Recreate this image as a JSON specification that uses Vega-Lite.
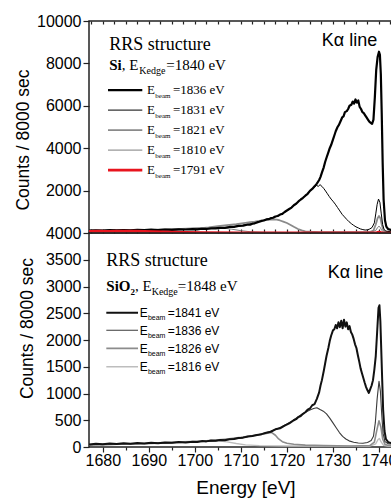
{
"$schema": "https://vega.github.io/schema/vega-lite/v6.json",
"background": "white",
"padding": {"left": 13, "top": 12, "right": 0, "bottom": 0},
"spacing": 0,
"bounds": "flush",
"config": {
  "view": {"stroke": "#222", "strokeWidth": 1.5},
  "axis": {"labelFont": "Liberation Sans", "titleFont": "Liberation Sans", "labelColor": "#000", "titleColor": "#000", "tickColor": "#222", "tickWidth": 1.2, "domain": false, "grid": false, "titleFontWeight": "normal", "labelFontSize": 16}
},
"datasets": {
  "headers": [
    {"panel": "Si", "heading": "RRS structure", "material": "Si", "materialSub": "", "edge": "=1840 eV", "line": "Kα line"},
    {"panel": "SiO2", "heading": "RRS structure", "material": "SiO", "materialSub": "2", "edge": "=1848 eV", "line": "Kα line"}
  ],
  "legend": [
    {"panel": "Si", "series": "Si 1836", "label": "=1836 eV", "ly": 6542},
    {"panel": "Si", "series": "Si 1831", "label": "=1831 eV", "ly": 5599},
    {"panel": "Si", "series": "Si 1821", "label": "=1821 eV", "ly": 4656},
    {"panel": "Si", "series": "Si 1810", "label": "=1810 eV", "ly": 3712},
    {"panel": "Si", "series": "Si 1791", "label": "=1791 eV", "ly": 2769},
    {"panel": "SiO2", "series": "SiO2 1841", "label": "=1841 eV", "ly": 2430},
    {"panel": "SiO2", "series": "SiO2 1836", "label": "=1836 eV", "ly": 2101},
    {"panel": "SiO2", "series": "SiO2 1826", "label": "=1826 eV", "ly": 1764},
    {"panel": "SiO2", "series": "SiO2 1816", "label": "=1816 eV", "ly": 1421}
  ],
  "spectra": [
{"panel":"Si","series":"Si 1810","E":1677,"counts":95},{"panel":"Si","series":"Si 1810","E":1680,"counts":105},{"panel":"Si","series":"Si 1810","E":1683,"counts":115},{"panel":"Si","series":"Si 1810","E":1686,"counts":130},{"panel":"Si","series":"Si 1810","E":1689,"counts":150},{"panel":"Si","series":"Si 1810","E":1692,"counts":170},{"panel":"Si","series":"Si 1810","E":1695,"counts":195},{"panel":"Si","series":"Si 1810","E":1698,"counts":220},{"panel":"Si","series":"Si 1810","E":1700,"counts":240},{"panel":"Si","series":"Si 1810","E":1702,"counts":255},{"panel":"Si","series":"Si 1810","E":1704,"counts":260},{"panel":"Si","series":"Si 1810","E":1706,"counts":240},{"panel":"Si","series":"Si 1810","E":1708,"counts":180},{"panel":"Si","series":"Si 1810","E":1710,"counts":110},{"panel":"Si","series":"Si 1810","E":1712,"counts":60},{"panel":"Si","series":"Si 1810","E":1715,"counts":35},{"panel":"Si","series":"Si 1810","E":1720,"counts":25},{"panel":"Si","series":"Si 1810","E":1730,"counts":20},{"panel":"Si","series":"Si 1810","E":1738,"counts":25},{"panel":"Si","series":"Si 1810","E":1739.3,"counts":120},{"panel":"Si","series":"Si 1810","E":1739.7,"counts":260},{"panel":"Si","series":"Si 1810","E":1740,"counts":320},{"panel":"Si","series":"Si 1810","E":1740.3,"counts":260},{"panel":"Si","series":"Si 1810","E":1740.6,"counts":120},{"panel":"Si","series":"Si 1810","E":1741,"counts":40},{"panel":"Si","series":"Si 1810","E":1742,"counts":20},{"panel":"Si","series":"Si 1810","E":1745,"counts":15},
{"panel":"Si","series":"Si 1821","E":1677,"counts":115},{"panel":"Si","series":"Si 1821","E":1679,"counts":120},{"panel":"Si","series":"Si 1821","E":1681,"counts":125},{"panel":"Si","series":"Si 1821","E":1683,"counts":130},{"panel":"Si","series":"Si 1821","E":1685,"counts":135},{"panel":"Si","series":"Si 1821","E":1687,"counts":140},{"panel":"Si","series":"Si 1821","E":1689,"counts":145},{"panel":"Si","series":"Si 1821","E":1691,"counts":150},{"panel":"Si","series":"Si 1821","E":1693,"counts":160},{"panel":"Si","series":"Si 1821","E":1695,"counts":165},{"panel":"Si","series":"Si 1821","E":1697,"counts":175},{"panel":"Si","series":"Si 1821","E":1699,"counts":190},{"panel":"Si","series":"Si 1821","E":1701,"counts":215},{"panel":"Si","series":"Si 1821","E":1703,"counts":260},{"panel":"Si","series":"Si 1821","E":1705,"counts":320},{"panel":"Si","series":"Si 1821","E":1707,"counts":370},{"panel":"Si","series":"Si 1821","E":1709,"counts":420},{"panel":"Si","series":"Si 1821","E":1711,"counts":480},{"panel":"Si","series":"Si 1821","E":1712,"counts":510},{"panel":"Si","series":"Si 1821","E":1713,"counts":540},{"panel":"Si","series":"Si 1821","E":1714,"counts":575},{"panel":"Si","series":"Si 1821","E":1715,"counts":610},{"panel":"Si","series":"Si 1821","E":1716,"counts":635},{"panel":"Si","series":"Si 1821","E":1717,"counts":645},{"panel":"Si","series":"Si 1821","E":1717.8,"counts":630},{"panel":"Si","series":"Si 1821","E":1718.5,"counts":590},{"panel":"Si","series":"Si 1821","E":1719.2,"counts":540},{"panel":"Si","series":"Si 1821","E":1720,"counts":470},{"panel":"Si","series":"Si 1821","E":1720.8,"counts":380},{"panel":"Si","series":"Si 1821","E":1721.6,"counts":280},{"panel":"Si","series":"Si 1821","E":1722.4,"counts":190},{"panel":"Si","series":"Si 1821","E":1723.2,"counts":120},{"panel":"Si","series":"Si 1821","E":1724,"counts":80},{"panel":"Si","series":"Si 1821","E":1725,"counts":60},{"panel":"Si","series":"Si 1821","E":1727,"counts":45},{"panel":"Si","series":"Si 1821","E":1730,"counts":40},{"panel":"Si","series":"Si 1821","E":1733,"counts":35},{"panel":"Si","series":"Si 1821","E":1736,"counts":35},{"panel":"Si","series":"Si 1821","E":1738,"counts":45},{"panel":"Si","series":"Si 1821","E":1738.8,"counts":120},{"panel":"Si","series":"Si 1821","E":1739.3,"counts":400},{"panel":"Si","series":"Si 1821","E":1739.7,"counts":700},{"panel":"Si","series":"Si 1821","E":1740,"counts":800},{"panel":"Si","series":"Si 1821","E":1740.3,"counts":700},{"panel":"Si","series":"Si 1821","E":1740.6,"counts":400},{"panel":"Si","series":"Si 1821","E":1740.9,"counts":160},{"panel":"Si","series":"Si 1821","E":1741.3,"counts":60},{"panel":"Si","series":"Si 1821","E":1742,"counts":40},{"panel":"Si","series":"Si 1821","E":1745,"counts":30},
{"panel":"Si","series":"Si 1831","E":1677,"counts":100},{"panel":"Si","series":"Si 1831","E":1680,"counts":110},{"panel":"Si","series":"Si 1831","E":1683,"counts":115},{"panel":"Si","series":"Si 1831","E":1686,"counts":120},{"panel":"Si","series":"Si 1831","E":1689,"counts":130},{"panel":"Si","series":"Si 1831","E":1692,"counts":140},{"panel":"Si","series":"Si 1831","E":1695,"counts":150},{"panel":"Si","series":"Si 1831","E":1698,"counts":165},{"panel":"Si","series":"Si 1831","E":1700,"counts":175},{"panel":"Si","series":"Si 1831","E":1702,"counts":195},{"panel":"Si","series":"Si 1831","E":1704,"counts":215},{"panel":"Si","series":"Si 1831","E":1706,"counts":245},{"panel":"Si","series":"Si 1831","E":1708,"counts":290},{"panel":"Si","series":"Si 1831","E":1710,"counts":345},{"panel":"Si","series":"Si 1831","E":1711,"counts":390},{"panel":"Si","series":"Si 1831","E":1712,"counts":420},{"panel":"Si","series":"Si 1831","E":1713,"counts":470},{"panel":"Si","series":"Si 1831","E":1714,"counts":540},{"panel":"Si","series":"Si 1831","E":1715,"counts":600},{"panel":"Si","series":"Si 1831","E":1716,"counts":660},{"panel":"Si","series":"Si 1831","E":1717,"counts":730},{"panel":"Si","series":"Si 1831","E":1718,"counts":810},{"panel":"Si","series":"Si 1831","E":1719,"counts":900},{"panel":"Si","series":"Si 1831","E":1720,"counts":1050},{"panel":"Si","series":"Si 1831","E":1721,"counts":1200},{"panel":"Si","series":"Si 1831","E":1722,"counts":1380},{"panel":"Si","series":"Si 1831","E":1723,"counts":1580},{"panel":"Si","series":"Si 1831","E":1724,"counts":1760},{"panel":"Si","series":"Si 1831","E":1724.5,"counts":1850},{"panel":"Si","series":"Si 1831","E":1725,"counts":1980},{"panel":"Si","series":"Si 1831","E":1725.5,"counts":2080},{"panel":"Si","series":"Si 1831","E":1726,"counts":2150},{"panel":"Si","series":"Si 1831","E":1726.4,"counts":2250},{"panel":"Si","series":"Si 1831","E":1726.8,"counts":2200},{"panel":"Si","series":"Si 1831","E":1727.2,"counts":2280},{"panel":"Si","series":"Si 1831","E":1727.6,"counts":2200},{"panel":"Si","series":"Si 1831","E":1728,"counts":2100},{"panel":"Si","series":"Si 1831","E":1728.4,"counts":1980},{"panel":"Si","series":"Si 1831","E":1728.8,"counts":1850},{"panel":"Si","series":"Si 1831","E":1729.2,"counts":1720},{"panel":"Si","series":"Si 1831","E":1729.6,"counts":1600},{"panel":"Si","series":"Si 1831","E":1730,"counts":1500},{"panel":"Si","series":"Si 1831","E":1730.5,"counts":1360},{"panel":"Si","series":"Si 1831","E":1731,"counts":1200},{"panel":"Si","series":"Si 1831","E":1731.5,"counts":1040},{"panel":"Si","series":"Si 1831","E":1732,"counts":880},{"panel":"Si","series":"Si 1831","E":1732.5,"counts":760},{"panel":"Si","series":"Si 1831","E":1733,"counts":640},{"panel":"Si","series":"Si 1831","E":1733.5,"counts":530},{"panel":"Si","series":"Si 1831","E":1734,"counts":440},{"panel":"Si","series":"Si 1831","E":1734.5,"counts":360},{"panel":"Si","series":"Si 1831","E":1735,"counts":290},{"panel":"Si","series":"Si 1831","E":1735.5,"counts":240},{"panel":"Si","series":"Si 1831","E":1736,"counts":190},{"panel":"Si","series":"Si 1831","E":1736.5,"counts":160},{"panel":"Si","series":"Si 1831","E":1737,"counts":140},{"panel":"Si","series":"Si 1831","E":1737.5,"counts":150},{"panel":"Si","series":"Si 1831","E":1738,"counts":190},{"panel":"Si","series":"Si 1831","E":1738.5,"counts":260},{"panel":"Si","series":"Si 1831","E":1739,"counts":480},{"panel":"Si","series":"Si 1831","E":1739.3,"counts":900},{"panel":"Si","series":"Si 1831","E":1739.6,"counts":1350},{"panel":"Si","series":"Si 1831","E":1739.9,"counts":1600},{"panel":"Si","series":"Si 1831","E":1740.2,"counts":1450},{"panel":"Si","series":"Si 1831","E":1740.5,"counts":900},{"panel":"Si","series":"Si 1831","E":1740.8,"counts":400},{"panel":"Si","series":"Si 1831","E":1741.1,"counts":170},{"panel":"Si","series":"Si 1831","E":1741.5,"counts":90},{"panel":"Si","series":"Si 1831","E":1742.5,"counts":60},{"panel":"Si","series":"Si 1831","E":1744,"counts":50},{"panel":"Si","series":"Si 1831","E":1745,"counts":50},
{"panel":"Si","series":"Si 1836","E":1677,"counts":110},{"panel":"Si","series":"Si 1836","E":1678.5,"counts":130},{"panel":"Si","series":"Si 1836","E":1680,"counts":115},{"panel":"Si","series":"Si 1836","E":1681.5,"counts":135},{"panel":"Si","series":"Si 1836","E":1683,"counts":120},{"panel":"Si","series":"Si 1836","E":1684.5,"counts":140},{"panel":"Si","series":"Si 1836","E":1686,"counts":125},{"panel":"Si","series":"Si 1836","E":1687.5,"counts":150},{"panel":"Si","series":"Si 1836","E":1689,"counts":135},{"panel":"Si","series":"Si 1836","E":1690.5,"counts":155},{"panel":"Si","series":"Si 1836","E":1692,"counts":140},{"panel":"Si","series":"Si 1836","E":1693.5,"counts":165},{"panel":"Si","series":"Si 1836","E":1695,"counts":150},{"panel":"Si","series":"Si 1836","E":1696.5,"counts":175},{"panel":"Si","series":"Si 1836","E":1698,"counts":165},{"panel":"Si","series":"Si 1836","E":1699.5,"counts":180},{"panel":"Si","series":"Si 1836","E":1700.5,"counts":175},{"panel":"Si","series":"Si 1836","E":1701.5,"counts":200},{"panel":"Si","series":"Si 1836","E":1702.5,"counts":190},{"panel":"Si","series":"Si 1836","E":1703.5,"counts":220},{"panel":"Si","series":"Si 1836","E":1704.5,"counts":215},{"panel":"Si","series":"Si 1836","E":1705.5,"counts":245},{"panel":"Si","series":"Si 1836","E":1706.5,"counts":240},{"panel":"Si","series":"Si 1836","E":1707.5,"counts":285},{"panel":"Si","series":"Si 1836","E":1708.5,"counts":290},{"panel":"Si","series":"Si 1836","E":1709.5,"counts":335},{"panel":"Si","series":"Si 1836","E":1710.5,"counts":345},{"panel":"Si","series":"Si 1836","E":1711.5,"counts":400},{"panel":"Si","series":"Si 1836","E":1712,"counts":395},{"panel":"Si","series":"Si 1836","E":1712.5,"counts":440},{"panel":"Si","series":"Si 1836","E":1713,"counts":455},{"panel":"Si","series":"Si 1836","E":1713.5,"counts":500},{"panel":"Si","series":"Si 1836","E":1714,"counts":530},{"panel":"Si","series":"Si 1836","E":1714.5,"counts":570},{"panel":"Si","series":"Si 1836","E":1715,"counts":590},{"panel":"Si","series":"Si 1836","E":1715.5,"counts":640},{"panel":"Si","series":"Si 1836","E":1716,"counts":650},{"panel":"Si","series":"Si 1836","E":1716.5,"counts":700},{"panel":"Si","series":"Si 1836","E":1717,"counts":720},{"panel":"Si","series":"Si 1836","E":1717.5,"counts":780},{"panel":"Si","series":"Si 1836","E":1718,"counts":800},{"panel":"Si","series":"Si 1836","E":1718.5,"counts":870},{"panel":"Si","series":"Si 1836","E":1719,"counts":900},{"panel":"Si","series":"Si 1836","E":1719.5,"counts":990},{"panel":"Si","series":"Si 1836","E":1720,"counts":1060},{"panel":"Si","series":"Si 1836","E":1720.5,"counts":1130},{"panel":"Si","series":"Si 1836","E":1721,"counts":1200},{"panel":"Si","series":"Si 1836","E":1721.5,"counts":1310},{"panel":"Si","series":"Si 1836","E":1722,"counts":1380},{"panel":"Si","series":"Si 1836","E":1722.5,"counts":1490},{"panel":"Si","series":"Si 1836","E":1723,"counts":1580},{"panel":"Si","series":"Si 1836","E":1723.5,"counts":1660},{"panel":"Si","series":"Si 1836","E":1724,"counts":1760},{"panel":"Si","series":"Si 1836","E":1724.5,"counts":1850},{"panel":"Si","series":"Si 1836","E":1725,"counts":1990},{"panel":"Si","series":"Si 1836","E":1725.5,"counts":2080},{"panel":"Si","series":"Si 1836","E":1726,"counts":2200},{"panel":"Si","series":"Si 1836","E":1726.5,"counts":2330},{"panel":"Si","series":"Si 1836","E":1727,"counts":2500},{"panel":"Si","series":"Si 1836","E":1727.3,"counts":2650},{"panel":"Si","series":"Si 1836","E":1727.6,"counts":2850},{"panel":"Si","series":"Si 1836","E":1728,"counts":3100},{"panel":"Si","series":"Si 1836","E":1728.3,"counts":3350},{"panel":"Si","series":"Si 1836","E":1728.6,"counts":3550},{"panel":"Si","series":"Si 1836","E":1729,"counts":3800},{"panel":"Si","series":"Si 1836","E":1729.3,"counts":4000},{"panel":"Si","series":"Si 1836","E":1729.6,"counts":4150},{"panel":"Si","series":"Si 1836","E":1730,"counts":4400},{"panel":"Si","series":"Si 1836","E":1730.3,"counts":4600},{"panel":"Si","series":"Si 1836","E":1730.6,"counts":4800},{"panel":"Si","series":"Si 1836","E":1731,"counts":5000},{"panel":"Si","series":"Si 1836","E":1731.3,"counts":5100},{"panel":"Si","series":"Si 1836","E":1731.6,"counts":5250},{"panel":"Si","series":"Si 1836","E":1732,"counts":5450},{"panel":"Si","series":"Si 1836","E":1732.3,"counts":5500},{"panel":"Si","series":"Si 1836","E":1732.6,"counts":5700},{"panel":"Si","series":"Si 1836","E":1733,"counts":5750},{"panel":"Si","series":"Si 1836","E":1733.3,"counts":5850},{"panel":"Si","series":"Si 1836","E":1733.6,"counts":6000},{"panel":"Si","series":"Si 1836","E":1734,"counts":6050},{"panel":"Si","series":"Si 1836","E":1734.3,"counts":6200},{"panel":"Si","series":"Si 1836","E":1734.6,"counts":6100},{"panel":"Si","series":"Si 1836","E":1734.9,"counts":6300},{"panel":"Si","series":"Si 1836","E":1735.2,"counts":6150},{"panel":"Si","series":"Si 1836","E":1735.5,"counts":6250},{"panel":"Si","series":"Si 1836","E":1735.8,"counts":5950},{"panel":"Si","series":"Si 1836","E":1736.1,"counts":5850},{"panel":"Si","series":"Si 1836","E":1736.4,"counts":5700},{"panel":"Si","series":"Si 1836","E":1736.7,"counts":5650},{"panel":"Si","series":"Si 1836","E":1737,"counts":5550},{"panel":"Si","series":"Si 1836","E":1737.3,"counts":5450},{"panel":"Si","series":"Si 1836","E":1737.6,"counts":5350},{"panel":"Si","series":"Si 1836","E":1737.9,"counts":5250},{"panel":"Si","series":"Si 1836","E":1738.2,"counts":5200},{"panel":"Si","series":"Si 1836","E":1738.5,"counts":5150},{"panel":"Si","series":"Si 1836","E":1738.8,"counts":5350},{"panel":"Si","series":"Si 1836","E":1739.1,"counts":6400},{"panel":"Si","series":"Si 1836","E":1739.4,"counts":7700},{"panel":"Si","series":"Si 1836","E":1739.7,"counts":8300},{"panel":"Si","series":"Si 1836","E":1740,"counts":8550},{"panel":"Si","series":"Si 1836","E":1740.2,"counts":8400},{"panel":"Si","series":"Si 1836","E":1740.4,"counts":7500},{"panel":"Si","series":"Si 1836","E":1740.6,"counts":5600},{"panel":"Si","series":"Si 1836","E":1740.8,"counts":3300},{"panel":"Si","series":"Si 1836","E":1741,"counts":1600},{"panel":"Si","series":"Si 1836","E":1741.3,"counts":600},{"panel":"Si","series":"Si 1836","E":1741.6,"counts":300},{"panel":"Si","series":"Si 1836","E":1742,"counts":180},{"panel":"Si","series":"Si 1836","E":1743,"counts":130},{"panel":"Si","series":"Si 1836","E":1744,"counts":110},{"panel":"Si","series":"Si 1836","E":1745,"counts":100},
{"panel":"Si","series":"Si 1791","E":1677,"counts":80},{"panel":"Si","series":"Si 1791","E":1679,"counts":90},{"panel":"Si","series":"Si 1791","E":1681,"counts":85},{"panel":"Si","series":"Si 1791","E":1683,"counts":95},{"panel":"Si","series":"Si 1791","E":1685,"counts":90},{"panel":"Si","series":"Si 1791","E":1687,"counts":95},{"panel":"Si","series":"Si 1791","E":1689,"counts":80},{"panel":"Si","series":"Si 1791","E":1691,"counts":70},{"panel":"Si","series":"Si 1791","E":1693,"counts":55},{"panel":"Si","series":"Si 1791","E":1695,"counts":45},{"panel":"Si","series":"Si 1791","E":1698,"counts":30},{"panel":"Si","series":"Si 1791","E":1702,"counts":20},{"panel":"Si","series":"Si 1791","E":1710,"counts":12},{"panel":"Si","series":"Si 1791","E":1720,"counts":8},{"panel":"Si","series":"Si 1791","E":1730,"counts":5},{"panel":"Si","series":"Si 1791","E":1738,"counts":5},{"panel":"Si","series":"Si 1791","E":1739.5,"counts":25},{"panel":"Si","series":"Si 1791","E":1740,"counts":50},{"panel":"Si","series":"Si 1791","E":1740.5,"counts":20},{"panel":"Si","series":"Si 1791","E":1741,"counts":5},{"panel":"Si","series":"Si 1791","E":1745,"counts":0},
{"panel":"SiO2","series":"SiO2 1816","E":1677,"counts":35},{"panel":"SiO2","series":"SiO2 1816","E":1680,"counts":40},{"panel":"SiO2","series":"SiO2 1816","E":1684,"counts":50},{"panel":"SiO2","series":"SiO2 1816","E":1688,"counts":65},{"panel":"SiO2","series":"SiO2 1816","E":1692,"counts":80},{"panel":"SiO2","series":"SiO2 1816","E":1696,"counts":95},{"panel":"SiO2","series":"SiO2 1816","E":1700,"counts":110},{"panel":"SiO2","series":"SiO2 1816","E":1703,"counts":120},{"panel":"SiO2","series":"SiO2 1816","E":1705,"counts":115},{"panel":"SiO2","series":"SiO2 1816","E":1707,"counts":95},{"panel":"SiO2","series":"SiO2 1816","E":1709,"counts":65},{"panel":"SiO2","series":"SiO2 1816","E":1711,"counts":40},{"panel":"SiO2","series":"SiO2 1816","E":1714,"counts":25},{"panel":"SiO2","series":"SiO2 1816","E":1720,"counts":18},{"panel":"SiO2","series":"SiO2 1816","E":1730,"counts":15},{"panel":"SiO2","series":"SiO2 1816","E":1738,"counts":15},{"panel":"SiO2","series":"SiO2 1816","E":1739.3,"counts":60},{"panel":"SiO2","series":"SiO2 1816","E":1739.8,"counts":140},{"panel":"SiO2","series":"SiO2 1816","E":1740.1,"counts":160},{"panel":"SiO2","series":"SiO2 1816","E":1740.5,"counts":90},{"panel":"SiO2","series":"SiO2 1816","E":1741,"counts":30},{"panel":"SiO2","series":"SiO2 1816","E":1742,"counts":15},{"panel":"SiO2","series":"SiO2 1816","E":1745,"counts":10},
{"panel":"SiO2","series":"SiO2 1826","E":1677,"counts":40},{"panel":"SiO2","series":"SiO2 1826","E":1680,"counts":45},{"panel":"SiO2","series":"SiO2 1826","E":1683,"counts":50},{"panel":"SiO2","series":"SiO2 1826","E":1686,"counts":55},{"panel":"SiO2","series":"SiO2 1826","E":1689,"counts":60},{"panel":"SiO2","series":"SiO2 1826","E":1692,"counts":70},{"panel":"SiO2","series":"SiO2 1826","E":1695,"counts":80},{"panel":"SiO2","series":"SiO2 1826","E":1698,"counts":90},{"panel":"SiO2","series":"SiO2 1826","E":1701,"counts":105},{"panel":"SiO2","series":"SiO2 1826","E":1704,"counts":125},{"panel":"SiO2","series":"SiO2 1826","E":1707,"counts":150},{"panel":"SiO2","series":"SiO2 1826","E":1710,"counts":180},{"panel":"SiO2","series":"SiO2 1826","E":1712,"counts":205},{"panel":"SiO2","series":"SiO2 1826","E":1714,"counts":230},{"panel":"SiO2","series":"SiO2 1826","E":1715.5,"counts":255},{"panel":"SiO2","series":"SiO2 1826","E":1716.7,"counts":270},{"panel":"SiO2","series":"SiO2 1826","E":1717.5,"counts":220},{"panel":"SiO2","series":"SiO2 1826","E":1718.2,"counts":150},{"panel":"SiO2","series":"SiO2 1826","E":1719,"counts":100},{"panel":"SiO2","series":"SiO2 1826","E":1720,"counts":70},{"panel":"SiO2","series":"SiO2 1826","E":1721.5,"counts":50},{"panel":"SiO2","series":"SiO2 1826","E":1724,"counts":35},{"panel":"SiO2","series":"SiO2 1826","E":1728,"counts":25},{"panel":"SiO2","series":"SiO2 1826","E":1734,"counts":20},{"panel":"SiO2","series":"SiO2 1826","E":1738,"counts":25},{"panel":"SiO2","series":"SiO2 1826","E":1739,"counts":90},{"panel":"SiO2","series":"SiO2 1826","E":1739.5,"counts":300},{"panel":"SiO2","series":"SiO2 1826","E":1740,"counts":490},{"panel":"SiO2","series":"SiO2 1826","E":1740.4,"counts":380},{"panel":"SiO2","series":"SiO2 1826","E":1740.8,"counts":150},{"panel":"SiO2","series":"SiO2 1826","E":1741.3,"counts":50},{"panel":"SiO2","series":"SiO2 1826","E":1742,"counts":30},{"panel":"SiO2","series":"SiO2 1826","E":1745,"counts":20},
{"panel":"SiO2","series":"SiO2 1836","E":1677,"counts":45},{"panel":"SiO2","series":"SiO2 1836","E":1680,"counts":50},{"panel":"SiO2","series":"SiO2 1836","E":1683,"counts":55},{"panel":"SiO2","series":"SiO2 1836","E":1686,"counts":60},{"panel":"SiO2","series":"SiO2 1836","E":1689,"counts":65},{"panel":"SiO2","series":"SiO2 1836","E":1692,"counts":70},{"panel":"SiO2","series":"SiO2 1836","E":1695,"counts":80},{"panel":"SiO2","series":"SiO2 1836","E":1698,"counts":90},{"panel":"SiO2","series":"SiO2 1836","E":1701,"counts":100},{"panel":"SiO2","series":"SiO2 1836","E":1704,"counts":115},{"panel":"SiO2","series":"SiO2 1836","E":1707,"counts":135},{"panel":"SiO2","series":"SiO2 1836","E":1710,"counts":170},{"panel":"SiO2","series":"SiO2 1836","E":1712,"counts":200},{"panel":"SiO2","series":"SiO2 1836","E":1714,"counts":235},{"panel":"SiO2","series":"SiO2 1836","E":1716,"counts":280},{"panel":"SiO2","series":"SiO2 1836","E":1718,"counts":340},{"panel":"SiO2","series":"SiO2 1836","E":1720,"counts":430},{"panel":"SiO2","series":"SiO2 1836","E":1721,"counts":480},{"panel":"SiO2","series":"SiO2 1836","E":1722,"counts":540},{"panel":"SiO2","series":"SiO2 1836","E":1723,"counts":600},{"panel":"SiO2","series":"SiO2 1836","E":1724,"counts":650},{"panel":"SiO2","series":"SiO2 1836","E":1725,"counts":690},{"panel":"SiO2","series":"SiO2 1836","E":1725.8,"counts":720},{"panel":"SiO2","series":"SiO2 1836","E":1726.5,"counts":735},{"panel":"SiO2","series":"SiO2 1836","E":1727.2,"counts":700},{"panel":"SiO2","series":"SiO2 1836","E":1727.9,"counts":670},{"panel":"SiO2","series":"SiO2 1836","E":1728.6,"counts":620},{"panel":"SiO2","series":"SiO2 1836","E":1729.3,"counts":540},{"panel":"SiO2","series":"SiO2 1836","E":1730,"counts":450},{"panel":"SiO2","series":"SiO2 1836","E":1730.7,"counts":360},{"panel":"SiO2","series":"SiO2 1836","E":1731.4,"counts":270},{"panel":"SiO2","series":"SiO2 1836","E":1732.1,"counts":200},{"panel":"SiO2","series":"SiO2 1836","E":1732.8,"counts":150},{"panel":"SiO2","series":"SiO2 1836","E":1733.5,"counts":115},{"panel":"SiO2","series":"SiO2 1836","E":1734.5,"counts":90},{"panel":"SiO2","series":"SiO2 1836","E":1735.5,"counts":75},{"panel":"SiO2","series":"SiO2 1836","E":1736.5,"counts":70},{"panel":"SiO2","series":"SiO2 1836","E":1737.5,"counts":85},{"panel":"SiO2","series":"SiO2 1836","E":1738.3,"counts":120},{"panel":"SiO2","series":"SiO2 1836","E":1738.8,"counts":200},{"panel":"SiO2","series":"SiO2 1836","E":1739.2,"counts":450},{"panel":"SiO2","series":"SiO2 1836","E":1739.6,"counts":900},{"panel":"SiO2","series":"SiO2 1836","E":1740,"counts":1230},{"panel":"SiO2","series":"SiO2 1836","E":1740.3,"counts":1050},{"panel":"SiO2","series":"SiO2 1836","E":1740.6,"counts":600},{"panel":"SiO2","series":"SiO2 1836","E":1740.9,"counts":250},{"panel":"SiO2","series":"SiO2 1836","E":1741.3,"counts":100},{"panel":"SiO2","series":"SiO2 1836","E":1742,"counts":60},{"panel":"SiO2","series":"SiO2 1836","E":1744,"counts":45},{"panel":"SiO2","series":"SiO2 1836","E":1745,"counts":40},
{"panel":"SiO2","series":"SiO2 1841","E":1677,"counts":45},{"panel":"SiO2","series":"SiO2 1841","E":1678.5,"counts":60},{"panel":"SiO2","series":"SiO2 1841","E":1680,"counts":50},{"panel":"SiO2","series":"SiO2 1841","E":1681.5,"counts":65},{"panel":"SiO2","series":"SiO2 1841","E":1683,"counts":55},{"panel":"SiO2","series":"SiO2 1841","E":1684.5,"counts":70},{"panel":"SiO2","series":"SiO2 1841","E":1686,"counts":60},{"panel":"SiO2","series":"SiO2 1841","E":1687.5,"counts":75},{"panel":"SiO2","series":"SiO2 1841","E":1689,"counts":65},{"panel":"SiO2","series":"SiO2 1841","E":1690.5,"counts":80},{"panel":"SiO2","series":"SiO2 1841","E":1692,"counts":70},{"panel":"SiO2","series":"SiO2 1841","E":1693.5,"counts":85},{"panel":"SiO2","series":"SiO2 1841","E":1695,"counts":80},{"panel":"SiO2","series":"SiO2 1841","E":1696.5,"counts":95},{"panel":"SiO2","series":"SiO2 1841","E":1698,"counts":85},{"panel":"SiO2","series":"SiO2 1841","E":1699.5,"counts":100},{"panel":"SiO2","series":"SiO2 1841","E":1700.5,"counts":95},{"panel":"SiO2","series":"SiO2 1841","E":1701.5,"counts":110},{"panel":"SiO2","series":"SiO2 1841","E":1702.5,"counts":105},{"panel":"SiO2","series":"SiO2 1841","E":1703.5,"counts":120},{"panel":"SiO2","series":"SiO2 1841","E":1704.5,"counts":115},{"panel":"SiO2","series":"SiO2 1841","E":1705.5,"counts":130},{"panel":"SiO2","series":"SiO2 1841","E":1706.5,"counts":125},{"panel":"SiO2","series":"SiO2 1841","E":1707.5,"counts":145},{"panel":"SiO2","series":"SiO2 1841","E":1708.5,"counts":150},{"panel":"SiO2","series":"SiO2 1841","E":1709.5,"counts":170},{"panel":"SiO2","series":"SiO2 1841","E":1710.5,"counts":175},{"panel":"SiO2","series":"SiO2 1841","E":1711.5,"counts":195},{"panel":"SiO2","series":"SiO2 1841","E":1712.5,"counts":205},{"panel":"SiO2","series":"SiO2 1841","E":1713.5,"counts":225},{"panel":"SiO2","series":"SiO2 1841","E":1714.5,"counts":240},{"panel":"SiO2","series":"SiO2 1841","E":1715.5,"counts":265},{"panel":"SiO2","series":"SiO2 1841","E":1716.5,"counts":285},{"panel":"SiO2","series":"SiO2 1841","E":1717.5,"counts":330},{"panel":"SiO2","series":"SiO2 1841","E":1718.5,"counts":350},{"panel":"SiO2","series":"SiO2 1841","E":1719.5,"counts":400},{"panel":"SiO2","series":"SiO2 1841","E":1720.5,"counts":440},{"panel":"SiO2","series":"SiO2 1841","E":1721.5,"counts":500},{"panel":"SiO2","series":"SiO2 1841","E":1722,"counts":520},{"panel":"SiO2","series":"SiO2 1841","E":1722.5,"counts":560},{"panel":"SiO2","series":"SiO2 1841","E":1723,"counts":580},{"panel":"SiO2","series":"SiO2 1841","E":1723.5,"counts":620},{"panel":"SiO2","series":"SiO2 1841","E":1724,"counts":650},{"panel":"SiO2","series":"SiO2 1841","E":1724.5,"counts":700},{"panel":"SiO2","series":"SiO2 1841","E":1725,"counts":720},{"panel":"SiO2","series":"SiO2 1841","E":1725.5,"counts":780},{"panel":"SiO2","series":"SiO2 1841","E":1726,"counts":800},{"panel":"SiO2","series":"SiO2 1841","E":1726.5,"counts":900},{"panel":"SiO2","series":"SiO2 1841","E":1727,"counts":1020},{"panel":"SiO2","series":"SiO2 1841","E":1727.3,"counts":1150},{"panel":"SiO2","series":"SiO2 1841","E":1727.6,"counts":1250},{"panel":"SiO2","series":"SiO2 1841","E":1728,"counts":1420},{"panel":"SiO2","series":"SiO2 1841","E":1728.3,"counts":1560},{"panel":"SiO2","series":"SiO2 1841","E":1728.6,"counts":1700},{"panel":"SiO2","series":"SiO2 1841","E":1729,"counts":1850},{"panel":"SiO2","series":"SiO2 1841","E":1729.3,"counts":1980},{"panel":"SiO2","series":"SiO2 1841","E":1729.6,"counts":2080},{"panel":"SiO2","series":"SiO2 1841","E":1730,"counts":2180},{"panel":"SiO2","series":"SiO2 1841","E":1730.3,"counts":2200},{"panel":"SiO2","series":"SiO2 1841","E":1730.6,"counts":2280},{"panel":"SiO2","series":"SiO2 1841","E":1730.9,"counts":2220},{"panel":"SiO2","series":"SiO2 1841","E":1731.2,"counts":2330},{"panel":"SiO2","series":"SiO2 1841","E":1731.5,"counts":2240},{"panel":"SiO2","series":"SiO2 1841","E":1731.8,"counts":2360},{"panel":"SiO2","series":"SiO2 1841","E":1732.1,"counts":2220},{"panel":"SiO2","series":"SiO2 1841","E":1732.4,"counts":2380},{"panel":"SiO2","series":"SiO2 1841","E":1732.7,"counts":2250},{"panel":"SiO2","series":"SiO2 1841","E":1733,"counts":2330},{"panel":"SiO2","series":"SiO2 1841","E":1733.3,"counts":2200},{"panel":"SiO2","series":"SiO2 1841","E":1733.6,"counts":2260},{"panel":"SiO2","series":"SiO2 1841","E":1733.9,"counts":2150},{"panel":"SiO2","series":"SiO2 1841","E":1734.2,"counts":2100},{"panel":"SiO2","series":"SiO2 1841","E":1734.5,"counts":2020},{"panel":"SiO2","series":"SiO2 1841","E":1734.8,"counts":1920},{"panel":"SiO2","series":"SiO2 1841","E":1735.1,"counts":1850},{"panel":"SiO2","series":"SiO2 1841","E":1735.4,"counts":1720},{"panel":"SiO2","series":"SiO2 1841","E":1735.7,"counts":1600},{"panel":"SiO2","series":"SiO2 1841","E":1736,"counts":1470},{"panel":"SiO2","series":"SiO2 1841","E":1736.3,"counts":1380},{"panel":"SiO2","series":"SiO2 1841","E":1736.6,"counts":1290},{"panel":"SiO2","series":"SiO2 1841","E":1736.9,"counts":1200},{"panel":"SiO2","series":"SiO2 1841","E":1737.2,"counts":1120},{"panel":"SiO2","series":"SiO2 1841","E":1737.5,"counts":1060},{"panel":"SiO2","series":"SiO2 1841","E":1737.8,"counts":1010},{"panel":"SiO2","series":"SiO2 1841","E":1738.1,"counts":1080},{"panel":"SiO2","series":"SiO2 1841","E":1738.4,"counts":1150},{"panel":"SiO2","series":"SiO2 1841","E":1738.7,"counts":1250},{"panel":"SiO2","series":"SiO2 1841","E":1739,"counts":1450},{"panel":"SiO2","series":"SiO2 1841","E":1739.3,"counts":1700},{"panel":"SiO2","series":"SiO2 1841","E":1739.6,"counts":2150},{"panel":"SiO2","series":"SiO2 1841","E":1739.9,"counts":2600},{"panel":"SiO2","series":"SiO2 1841","E":1740.1,"counts":2650},{"panel":"SiO2","series":"SiO2 1841","E":1740.3,"counts":2350},{"panel":"SiO2","series":"SiO2 1841","E":1740.5,"counts":1800},{"panel":"SiO2","series":"SiO2 1841","E":1740.7,"counts":1250},{"panel":"SiO2","series":"SiO2 1841","E":1740.9,"counts":700},{"panel":"SiO2","series":"SiO2 1841","E":1741.2,"counts":300},{"panel":"SiO2","series":"SiO2 1841","E":1741.5,"counts":150},{"panel":"SiO2","series":"SiO2 1841","E":1742,"counts":90},{"panel":"SiO2","series":"SiO2 1841","E":1743,"counts":65},{"panel":"SiO2","series":"SiO2 1841","E":1744,"counts":55},{"panel":"SiO2","series":"SiO2 1841","E":1745,"counts":50}
  ]
},
"vconcat": [
  {
    "width": 313,
    "height": 212,
    "layer": [
      {
        "data": {"name": "spectra"},
        "transform": [{"filter": "datum.panel === 'Si'"}],
        "mark": {"type": "line", "clip": true, "strokeJoin": "round"},
        "encoding": {
          "x": {"field": "E", "type": "quantitative", "scale": {"domain": [1677, 1745], "nice": false, "zero": false},
                "axis": {"orient": "bottom", "values": [1677.5,1680,1682.5,1685,1687.5,1690,1692.5,1695,1697.5,1700,1702.5,1705,1707.5,1710,1712.5,1715,1717.5,1720,1722.5,1725,1727.5,1730,1732.5,1735,1737.5,1740,1742.5], "labels": false, "tickSize": 4, "offset": -4, "title": null}},
          "y": {"field": "counts", "type": "quantitative", "scale": {"domain": [0, 10000], "nice": false, "zero": true},
                "axis": {"values": [2000,4000,6000,8000,10000], "format": "d", "tickSize": 6, "labelPadding": 2, "title": "Counts / 8000 sec", "titleFontSize": 17.5, "titleX": -66, "titleY": 118.5, "titleBaseline": "middle", "titleAngle": 270}},
          "color": {"field": "series", "type": "nominal", "legend": null,
                    "scale": {"domain": ["Si 1836","Si 1831","Si 1821","Si 1810","Si 1791","SiO2 1841","SiO2 1836","SiO2 1826","SiO2 1816"],
                              "range": ["#000000","#000000","#8a8a8a","#6e6e6e","#e8141e","#111111","#3a3a3a","#8c8c8c","#bdbdbd"]}},
          "strokeWidth": {"field": "series", "type": "nominal", "legend": null,
                    "scale": {"type": "ordinal", "domain": ["Si 1836","Si 1831","Si 1821","Si 1810","Si 1791","SiO2 1841","SiO2 1836","SiO2 1826","SiO2 1816"],
                              "range": [2.2,1.0,1.8,0.9,2.6,2.0,1.1,1.6,1.4]}}
        }
      },
      {
        "data": {"name": "legend"},
        "transform": [{"filter": "datum.panel === 'Si'"}],
        "mark": {"type": "rule", "yOffset": -4.2},
        "encoding": {
          "x": {"datum": 1681.13, "type": "quantitative", "scale": {"domain": [1677, 1745], "nice": false, "zero": false},
                "axis": {"orient": "top", "values": [1677.5,1680,1682.5,1685,1687.5,1690,1692.5,1695,1697.5,1700,1702.5,1705,1707.5,1710,1712.5,1715,1717.5,1720,1722.5,1725,1727.5,1730,1732.5,1735,1737.5,1740,1742.5], "labels": false, "tickSize": 3, "offset": -3, "title": null}},
          "x2": {"datum": 1688.58},
          "y": {"field": "ly", "type": "quantitative", "scale": {"domain": [0, 10000], "nice": false, "zero": true},
                "axis": {"values": [1000,3000,5000,7000,9000], "tickSize": 3, "labels": false, "title": null}},
          "color": {"field": "series", "type": "nominal", "legend": null,
                    "scale": {"domain": ["Si 1836","Si 1831","Si 1821","Si 1810","Si 1791","SiO2 1841","SiO2 1836","SiO2 1826","SiO2 1816"],
                              "range": ["#000000","#000000","#8a8a8a","#6e6e6e","#e8141e","#111111","#3a3a3a","#8c8c8c","#bdbdbd"]}},
          "strokeWidth": {"field": "series", "type": "nominal", "legend": null,
                    "scale": {"type": "ordinal", "domain": ["Si 1836","Si 1831","Si 1821","Si 1810","Si 1791","SiO2 1841","SiO2 1836","SiO2 1826","SiO2 1816"],
                              "range": [2.2,1.0,1.8,0.9,2.6,2.0,1.1,1.6,1.4]}}
        }
      },
      {
        "data": {"name": "legend"},
        "transform": [{"filter": "datum.panel === 'Si'"}],
        "mark": {"type": "text", "font": "Liberation Serif", "fontSize": 13, "align": "left", "baseline": "alphabetic", "color": "#000"},
        "encoding": {
          "x": {"datum": 1689.6, "type": "quantitative", "axis": null},
          "y": {"field": "ly", "type": "quantitative", "axis": null},
          "text": {"value": "E"}
        }
      },
      {
        "data": {"name": "legend"},
        "transform": [{"filter": "datum.panel === 'Si'"}],
        "mark": {"type": "text", "font": "Liberation Serif", "fontSize": 7, "align": "left", "baseline": "alphabetic", "color": "#000", "dx": 8.3, "dy": 3.5},
        "encoding": {
          "x": {"datum": 1689.6, "type": "quantitative", "axis": null},
          "y": {"field": "ly", "type": "quantitative", "axis": null},
          "text": {"value": "beam"}
        }
      },
      {
        "data": {"name": "legend"},
        "transform": [{"filter": "datum.panel === 'Si'"}],
        "mark": {"type": "text", "font": "Liberation Serif", "fontSize": 13, "align": "left", "baseline": "alphabetic", "color": "#000", "dx": 26},
        "encoding": {
          "x": {"datum": 1689.6, "type": "quantitative", "axis": null},
          "y": {"field": "ly", "type": "quantitative", "axis": null},
          "text": {"field": "label"}
        }
      },
      {
        "data": {"name": "headers"},
        "transform": [{"filter": "datum.panel === 'Si'"}],
        "mark": {"type": "text", "font": "Liberation Serif", "fontSize": 18, "align": "left", "baseline": "alphabetic", "color": "#000"},
        "encoding": {
          "x": {"datum": 1681.4, "type": "quantitative", "axis": null},
          "y": {"datum": 8632, "type": "quantitative", "axis": null},
          "text": {"field": "heading"}
        }
      },
      {
        "data": {"name": "headers"},
        "transform": [{"filter": "datum.panel === 'Si'"}],
        "mark": {"type": "text", "font": "Liberation Serif", "fontSize": 15, "fontWeight": "bold", "align": "left", "baseline": "alphabetic", "color": "#000"},
        "encoding": {
          "x": {"datum": 1681.4, "type": "quantitative", "axis": null},
          "y": {"datum": 7689, "type": "quantitative", "axis": null},
          "text": {"field": "material"}
        }
      },
      {
        "data": {"name": "headers"},
        "transform": [{"filter": "datum.panel === 'Si'"}],
        "mark": {"type": "text", "font": "Liberation Serif", "fontSize": 15, "align": "left", "baseline": "alphabetic", "color": "#000", "dx": 12.5},
        "encoding": {
          "x": {"datum": 1681.4, "type": "quantitative", "axis": null},
          "y": {"datum": 7689, "type": "quantitative", "axis": null},
          "text": {"value": ", E"}
        }
      },
      {
        "data": {"name": "headers"},
        "transform": [{"filter": "datum.panel === 'Si'"}],
        "mark": {"type": "text", "font": "Liberation Serif", "fontSize": 10, "align": "left", "baseline": "alphabetic", "color": "#000", "dx": 30, "dy": 4},
        "encoding": {
          "x": {"datum": 1681.4, "type": "quantitative", "axis": null},
          "y": {"datum": 7689, "type": "quantitative", "axis": null},
          "text": {"value": "Kedge"}
        }
      },
      {
        "data": {"name": "headers"},
        "transform": [{"filter": "datum.panel === 'Si'"}],
        "mark": {"type": "text", "font": "Liberation Serif", "fontSize": 15, "align": "left", "baseline": "alphabetic", "color": "#000", "dx": 57},
        "encoding": {
          "x": {"datum": 1681.4, "type": "quantitative", "axis": null},
          "y": {"datum": 7689, "type": "quantitative", "axis": null},
          "text": {"field": "edge"}
        }
      },
      {
        "data": {"name": "headers"},
        "transform": [{"filter": "datum.panel === 'Si'"}],
        "mark": {"type": "text", "font": "Liberation Sans", "fontSize": 18, "align": "center", "baseline": "alphabetic", "color": "#000"},
        "encoding": {
          "x": {"datum": 1733.6, "type": "quantitative", "axis": null},
          "y": {"datum": 8821, "type": "quantitative", "axis": null},
          "text": {"field": "line"}
        }
      }
    ],
    "resolve": {"axis": {"x": "independent", "y": "independent"}}
  },
  {
    "width": 313,
    "height": 214,
    "layer": [
      {
        "data": {"name": "spectra"},
        "transform": [{"filter": "datum.panel === 'SiO2'"}],
        "mark": {"type": "line", "clip": true, "strokeJoin": "round"},
        "encoding": {
          "x": {"field": "E", "type": "quantitative", "scale": {"domain": [1677, 1745], "nice": false, "zero": false},
                "axis": {"orient": "bottom", "values": [1680,1690,1700,1710,1720,1730,1740], "format": "d", "tickSize": 5, "labelPadding": 0, "title": "Energy [eV]", "titleFontSize": 19, "titleY": 46, "titleBaseline": "alphabetic"}},
          "y": {"field": "counts", "type": "quantitative", "scale": {"domain": [0, 4000], "nice": false, "zero": true},
                "axis": {"values": [0,500,1000,1500,2000,2500,3000,3500,4000], "format": "d", "tickSize": 6, "labelPadding": 2, "title": "Counts / 8000 sec", "titleFontSize": 17.5, "titleX": -62, "titleY": 95, "titleBaseline": "middle", "titleAngle": 270}},
          "color": {"field": "series", "type": "nominal", "legend": null,
                    "scale": {"domain": ["Si 1836","Si 1831","Si 1821","Si 1810","Si 1791","SiO2 1841","SiO2 1836","SiO2 1826","SiO2 1816"],
                              "range": ["#000000","#000000","#8a8a8a","#6e6e6e","#e8141e","#111111","#3a3a3a","#8c8c8c","#bdbdbd"]}},
          "strokeWidth": {"field": "series", "type": "nominal", "legend": null,
                    "scale": {"type": "ordinal", "domain": ["Si 1836","Si 1831","Si 1821","Si 1810","Si 1791","SiO2 1841","SiO2 1836","SiO2 1826","SiO2 1816"],
                              "range": [2.2,1.0,1.8,0.9,2.6,2.0,1.1,1.6,1.4]}}
        }
      },
      {
        "data": {"name": "legend"},
        "transform": [{"filter": "datum.panel === 'SiO2'"}],
        "mark": {"type": "rule", "yOffset": -4.3},
        "encoding": {
          "x": {"datum": 1680.76, "type": "quantitative", "scale": {"domain": [1677, 1745], "nice": false, "zero": false},
                "axis": {"orient": "bottom", "values": [1685,1695,1705,1715,1725,1735], "labels": false, "tickSize": 3, "title": null}},
          "x2": {"datum": 1687.65},
          "y": {"field": "ly", "type": "quantitative", "scale": {"domain": [0, 4000], "nice": false, "zero": true},
                "axis": {"values": [250,750,1250,1750,2250,2750,3250,3750], "tickSize": 3, "labels": false, "title": null}},
          "color": {"field": "series", "type": "nominal", "legend": null,
                    "scale": {"domain": ["Si 1836","Si 1831","Si 1821","Si 1810","Si 1791","SiO2 1841","SiO2 1836","SiO2 1826","SiO2 1816"],
                              "range": ["#000000","#000000","#8a8a8a","#6e6e6e","#e8141e","#111111","#3a3a3a","#8c8c8c","#bdbdbd"]}},
          "strokeWidth": {"field": "series", "type": "nominal", "legend": null,
                    "scale": {"type": "ordinal", "domain": ["Si 1836","Si 1831","Si 1821","Si 1810","Si 1791","SiO2 1841","SiO2 1836","SiO2 1826","SiO2 1816"],
                              "range": [2.2,1.0,1.8,0.9,2.6,2.0,1.1,1.6,1.4]}}
        }
      },
      {
        "data": {"name": "legend"},
        "transform": [{"filter": "datum.panel === 'SiO2'"}],
        "mark": {"type": "text", "font": "Liberation Sans", "fontSize": 12, "align": "left", "baseline": "alphabetic", "color": "#000"},
        "encoding": {
          "x": {"datum": 1688.0, "type": "quantitative", "axis": null},
          "y": {"field": "ly", "type": "quantitative", "axis": null},
          "text": {"value": "E"}
        }
      },
      {
        "data": {"name": "legend"},
        "transform": [{"filter": "datum.panel === 'SiO2'"}],
        "mark": {"type": "text", "font": "Liberation Sans", "fontSize": 7, "align": "left", "baseline": "alphabetic", "color": "#000", "dx": 8.3, "dy": 3.5},
        "encoding": {
          "x": {"datum": 1688.0, "type": "quantitative", "axis": null},
          "y": {"field": "ly", "type": "quantitative", "axis": null},
          "text": {"value": "beam"}
        }
      },
      {
        "data": {"name": "legend"},
        "transform": [{"filter": "datum.panel === 'SiO2'"}],
        "mark": {"type": "text", "font": "Liberation Sans", "fontSize": 12, "align": "left", "baseline": "alphabetic", "color": "#000", "dx": 28},
        "encoding": {
          "x": {"datum": 1688.0, "type": "quantitative", "axis": null},
          "y": {"field": "ly", "type": "quantitative", "axis": null},
          "text": {"field": "label"}
        }
      },
      {
        "data": {"name": "headers"},
        "transform": [{"filter": "datum.panel === 'SiO2'"}],
        "mark": {"type": "text", "font": "Liberation Serif", "fontSize": 18, "align": "left", "baseline": "alphabetic", "color": "#000"},
        "encoding": {
          "x": {"datum": 1680.76, "type": "quantitative", "axis": null},
          "y": {"datum": 3383, "type": "quantitative", "axis": null},
          "text": {"field": "heading"}
        }
      },
      {
        "data": {"name": "headers"},
        "transform": [{"filter": "datum.panel === 'SiO2'"}],
        "mark": {"type": "text", "font": "Liberation Serif", "fontSize": 15, "fontWeight": "bold", "align": "left", "baseline": "alphabetic", "color": "#000"},
        "encoding": {
          "x": {"datum": 1680.76, "type": "quantitative", "axis": null},
          "y": {"datum": 2916, "type": "quantitative", "axis": null},
          "text": {"field": "material"}
        }
      },
      {
        "data": {"name": "headers"},
        "transform": [{"filter": "datum.panel === 'SiO2'"}],
        "mark": {"type": "text", "font": "Liberation Serif", "fontSize": 9, "fontWeight": "bold", "align": "left", "baseline": "alphabetic", "color": "#000", "dx": 24.2, "dy": 4},
        "encoding": {
          "x": {"datum": 1680.76, "type": "quantitative", "axis": null},
          "y": {"datum": 2916, "type": "quantitative", "axis": null},
          "text": {"field": "materialSub"}
        }
      },
      {
        "data": {"name": "headers"},
        "transform": [{"filter": "datum.panel === 'SiO2'"}],
        "mark": {"type": "text", "font": "Liberation Serif", "fontSize": 15, "align": "left", "baseline": "alphabetic", "color": "#000", "dx": 28.7},
        "encoding": {
          "x": {"datum": 1680.76, "type": "quantitative", "axis": null},
          "y": {"datum": 2916, "type": "quantitative", "axis": null},
          "text": {"value": ", E"}
        }
      },
      {
        "data": {"name": "headers"},
        "transform": [{"filter": "datum.panel === 'SiO2'"}],
        "mark": {"type": "text", "font": "Liberation Serif", "fontSize": 10, "align": "left", "baseline": "alphabetic", "color": "#000", "dx": 45.4, "dy": 4},
        "encoding": {
          "x": {"datum": 1680.76, "type": "quantitative", "axis": null},
          "y": {"datum": 2916, "type": "quantitative", "axis": null},
          "text": {"value": "Kedge"}
        }
      },
      {
        "data": {"name": "headers"},
        "transform": [{"filter": "datum.panel === 'SiO2'"}],
        "mark": {"type": "text", "font": "Liberation Serif", "fontSize": 15, "align": "left", "baseline": "alphabetic", "color": "#000", "dx": 71.5},
        "encoding": {
          "x": {"datum": 1680.76, "type": "quantitative", "axis": null},
          "y": {"datum": 2916, "type": "quantitative", "axis": null},
          "text": {"field": "edge"}
        }
      },
      {
        "data": {"name": "headers"},
        "transform": [{"filter": "datum.panel === 'SiO2'"}],
        "mark": {"type": "text", "font": "Liberation Sans", "fontSize": 18, "align": "center", "baseline": "alphabetic", "color": "#000"},
        "encoding": {
          "x": {"datum": 1734.9, "type": "quantitative", "axis": null},
          "y": {"datum": 3159, "type": "quantitative", "axis": null},
          "text": {"field": "line"}
        }
      }
    ],
    "resolve": {"axis": {"x": "independent", "y": "independent"}}
  }
]
}
